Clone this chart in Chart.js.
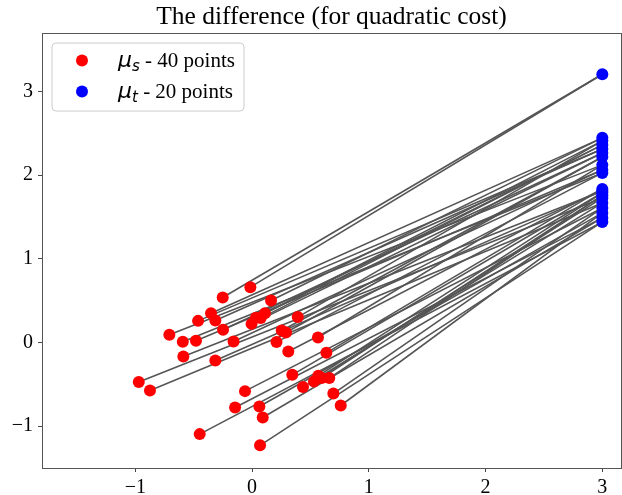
<!DOCTYPE html>
<html><head><meta charset="utf-8">
<script src="https://cdn.jsdelivr.net/npm/chart.js@4/dist/chart.umd.min.js"></script>
<style>html,body{margin:0;padding:0;background:#fff}canvas{display:block}</style>
</head><body>
<canvas id="c" width="622" height="495"></canvas>
<script>
const titleText = 'The difference (for quadratic cost)';
// source points (mu_s, 40 points)
const sourceX = [-0.015,-0.252,0.162,-0.352,-0.463,-0.315,-0.709,-0.594,-0.481,-0.249,
  -0.159,-0.005,0.033,0.110,0.074,0.391,0.254,0.290,0.209,0.310,
  0.564,0.636,-0.589,-0.315,-0.971,-0.875,-0.061,-0.146,0.062,0.091,
  -0.449,0.068,0.344,0.436,0.530,0.567,0.596,0.661,0.696,0.759];
const sourceY = [0.662,0.538,0.502,0.351,0.259,0.263,0.092,0.008,0.020,0.152,
  0.012,0.223,0.295,0.351,0.292,0.304,0.143,0.120,0.005,-0.108,
  0.060,-0.123,-0.167,-0.215,-0.473,-0.574,-0.581,-0.777,-0.765,-0.896,
  -1.095,-1.229,-0.386,-0.533,-0.466,-0.398,-0.425,-0.425,-0.610,-0.753];
// target points (mu_t, 20 points)
const targetX = [3,3,3,3,3,3,3,3,3,3,3,3,3,3,3,3,3,3,3,3];
const targetY = [3.208,2.447,2.411,2.363,2.315,2.267,2.219,2.124,2.064,2.028,
  1.837,1.813,1.790,1.760,1.729,1.669,1.609,1.550,1.490,1.442];
const xTicks = [-1,0,1,2,3];
const yTicks = [-1,0,1,2,3];
const legendSymbols = ['μ','μ'];
const legendSubs = ['s','t'];
const legendTexts = [' - 40 points',' - 20 points'];
const legendColors = ['#ff0000','#0000ff'];

// optimal matching for quadratic cost (targets share x, so it is monotone in y)
const srcOrder = sourceY.map((y,i)=>i).sort((a,b)=>sourceY[b]-sourceY[a]);
const tgtOrder = targetY.map((y,i)=>i).sort((a,b)=>targetY[b]-targetY[a]);
const k = sourceX.length / targetX.length;
const pairs = srcOrder.map((si,r)=>[si, tgtOrder[Math.floor(r/k)]]);

const lineSets = pairs.map(([s,t])=>({
  label:'_line', showLine:true, data:[{x:sourceX[s],y:sourceY[s]},{x:targetX[t],y:targetY[t]}],
  borderColor:'#555555', borderWidth:1.6, pointRadius:0, pointHoverRadius:0, order:3
}));
const pointSets = [
  {label:'μs - 40 points', data:sourceX.map((x,i)=>({x,y:sourceY[i]})), backgroundColor:legendColors[0], borderWidth:0, pointRadius:6, pointHoverRadius:6, order:1},
  {label:'μt - 20 points', data:targetX.map((x,i)=>({x,y:targetY[i]})), backgroundColor:legendColors[1], borderWidth:0, pointRadius:6, pointHoverRadius:6, order:0}
];

const fmt = v => (v<0 ? '\u2212'+Math.abs(v) : String(v));
const tickFont = {family:"'Liberation Serif', 'Times New Roman', serif", size:20};

// extend the plot area to the right edge like the reference
const stretch = {id:'stretch', afterLayout(chart){
  const a = chart.chartArea, target = chart.width - 1;
  const d = target - a.right;
  if (d > 0) {
    a.right = target; a.width = a.right - a.left;
    const x = chart.scales.x; x.right = target; x.width = x.right - x.left; x.configure();
    if (chart.titleBlock) { chart.titleBlock.right += d; chart.titleBlock.width += d; }
  }
}};
const frame = {id:'frame', afterDatasetsDraw(chart){
  const a = chart.chartArea, ctx = chart.ctx;
  ctx.save(); ctx.strokeStyle='#555'; ctx.lineWidth=1;
  ctx.strokeRect(Math.round(a.left)+0.5, Math.round(a.top)+0.5, Math.round(a.right-a.left), Math.round(a.bottom-a.top));
  ctx.restore();
}};
const mplLegend = {id:'mplLegend', afterDraw(chart){
  const a = chart.chartArea, ctx = chart.ctx;
  const x0=a.left+10, y0=a.top+10, w=192, h=68, r=4;
  ctx.save();
  ctx.beginPath();
  ctx.moveTo(x0+r,y0); ctx.lineTo(x0+w-r,y0); ctx.quadraticCurveTo(x0+w,y0,x0+w,y0+r);
  ctx.lineTo(x0+w,y0+h-r); ctx.quadraticCurveTo(x0+w,y0+h,x0+w-r,y0+h);
  ctx.lineTo(x0+r,y0+h); ctx.quadraticCurveTo(x0,y0+h,x0,y0+h-r);
  ctx.lineTo(x0,y0+r); ctx.quadraticCurveTo(x0,y0,x0+r,y0); ctx.closePath();
  ctx.fillStyle='rgba(255,255,255,0.8)'; ctx.fill();
  ctx.strokeStyle='#cccccc'; ctx.lineWidth=1; ctx.stroke();
  for(let i=0;i<2;i++){
    const cy = y0+17.5+31*i;
    ctx.beginPath(); ctx.arc(x0+30, cy, 6, 0, Math.PI*2); ctx.fillStyle=legendColors[i]; ctx.fill();
    ctx.fillStyle='#000'; ctx.textBaseline='alphabetic'; ctx.textAlign='left';
    let tx = x0+66; const base = cy+6.5;
    ctx.font="italic 22px 'DejaVu Sans'"; ctx.fillText(legendSymbols[i], tx, base); tx += ctx.measureText(legendSymbols[i]).width;
    ctx.font="italic 15px 'DejaVu Sans'"; ctx.fillText(legendSubs[i], tx, base+4); tx += ctx.measureText(legendSubs[i]).width;
    ctx.font="21px 'Liberation Serif'"; ctx.fillText(legendTexts[i], tx, base);
  }
  ctx.restore();
}};

new Chart(document.getElementById('c'), {
  type:'scatter',
  data:{datasets:[...pointSets, ...lineSets]},
  options:{
    responsive:false, animation:false, devicePixelRatio:1, events:[],
    layout:{padding:{left:0,right:1,top:0,bottom:0}},
    plugins:{
      legend:{display:false}, tooltip:{enabled:false},
      title:{display:true, text:titleText, fullSize:false, color:'#000',
        font:{family:"'Liberation Serif', 'Times New Roman', serif", size:25.5, weight:'normal', lineHeight:1.1},
        padding:{top:3.5,bottom:1.5}}
    },
    scales:{
      x:{type:'linear', min:-1.8, max:3.16,
        afterBuildTicks:s=>{s.ticks = xTicks.map(v=>({value:v}));},
        afterFit:s=>{s.height=27;},
        grid:{display:true, drawOnChartArea:false, drawTicks:true, tickLength:4, color:'#444', lineWidth:1},
        border:{display:true, color:'#555', width:1},
        ticks:{color:'#000', font:tickFont, padding:4, maxRotation:0, autoSkip:false, callback:v=>fmt(v)}},
      y:{type:'linear', min:-1.5, max:3.7,
        afterBuildTicks:s=>{s.ticks = yTicks.map(v=>({value:v}));},
        afterFit:s=>{s.width=42;},
        grid:{display:true, drawOnChartArea:false, drawTicks:true, tickLength:4, color:'#444', lineWidth:1},
        border:{display:true, color:'#555', width:1},
        ticks:{color:'#000', font:tickFont, padding:5, autoSkip:false, callback:v=>fmt(v)}}
    }
  },
  plugins:[stretch, frame, mplLegend]
});
</script>
</body></html>
